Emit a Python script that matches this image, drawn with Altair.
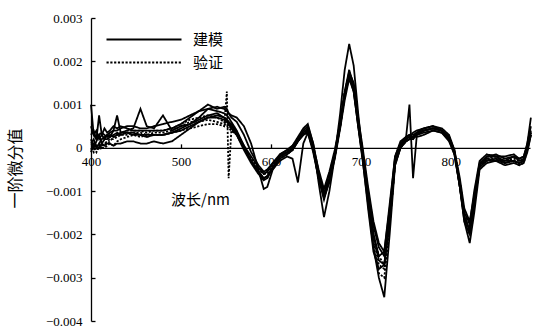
import altair as alt
import pandas as pd

# Wavelength grid (nm) shared by every curve
wavelength = [
    400, 403, 406, 409, 412, 415, 418, 421, 425, 429,
    433, 440, 447, 455, 462, 470, 480, 490, 500, 510,
    520, 530, 540, 548, 551, 553, 556, 562, 570, 578,
    586, 592, 596, 602, 610, 618, 624, 630, 636, 641,
    647, 653, 659, 665, 671, 677, 682, 687, 692, 697,
    702, 708, 714, 720, 726, 732, 738, 744, 750, 754,
    758, 762, 770, 780, 790, 798, 804, 810, 815, 821,
    826, 832, 840, 850, 860, 870, 876, 881, 885, 889,
]

# First-derivative spectra, in units of 0.001
model_1 = [
    0.1, 0.2, 0.0, 0.1, 0.2, 0.25, 0.3, 0.35, 0.4, 0.4,
    0.45, 0.5, 0.5, 0.45, 0.45, 0.5, 0.55, 0.6, 0.65, 0.75,
    0.85, 0.9, 0.95, 0.9, 0.85, 0.8, 0.75, 0.7, 0.5, 0.1,
    -0.5, -0.95, -0.9, -0.5, -0.15, -0.05, 0.05, 0.25, 0.45, 0.55,
    0.1, -0.8, -1.6, -1.0, -0.2, 0.8, 1.8, 2.4, 1.9, 0.8,
    -0.2, -1.2, -2.0, -2.5, -2.4, -1.4, -0.2, 0.15, 0.25, 0.3,
    0.3, 0.35, 0.4, 0.45, 0.4, 0.25, -0.05, -0.9, -1.7, -2.0,
    -1.3, -0.4, -0.2, -0.15, -0.25, -0.2, -0.25, -0.2, 0.1, 0.5,
]
model_2 = [
    1.0, 0.3, 0.2, 0.75, 0.3, 0.2, 0.3, 0.25, 0.4, 0.75,
    0.35, 0.4, 0.45, 0.9, 0.5, 0.45, 0.75, 0.4, 0.5, 0.55,
    0.7, 0.9, 0.85, 0.8, 0.75, 0.7, 0.6, 0.4, 0.05, -0.3,
    -0.55, -0.7, -0.65, -0.45, -0.25, -0.15, -0.05, 0.15, 0.3, 0.35,
    -0.1, -0.7, -1.1, -0.7, -0.2, 0.5, 1.2, 1.7, 1.35, 0.55,
    -0.2, -1.1, -2.0, -2.6, -2.7, -1.7, -0.35, 0.05, 0.2, 1.0,
    -0.7, 0.25, 0.3, 0.4, 0.35, 0.15, -0.15, -0.9, -1.6, -1.9,
    -1.3, -0.45, -0.3, -0.25, -0.35, -0.3, -0.35, -0.3, 0.1, 0.7,
]
model_3 = [
    0.3, 0.4, 0.2, 0.3, 0.35, 0.3, 0.25, 0.3, 0.25, 0.3,
    0.35, 0.35, 0.3, 0.3, 0.3, 0.3, 0.3, 0.35, 0.45, 0.55,
    0.65, 0.75, 0.8, 0.7, 0.65, 0.6, 0.55, 0.35, 0.0, -0.3,
    -0.55, -0.7, -0.65, -0.5, -0.3, -0.2, -0.25, -0.8, 0.1, 0.35,
    -0.05, -0.65, -1.15, -0.8, -0.2, 0.5, 1.2, 1.65, 1.3, 0.5,
    -0.3, -1.3, -2.3, -3.0, -3.45, -2.0, -0.4, 0.0, 0.15, 0.2,
    0.25, 0.3, 0.4, 0.45, 0.4, 0.25, -0.1, -0.9, -1.7, -2.2,
    -1.5, -0.5, -0.35, -0.3, -0.4, -0.35, -0.4, -0.35, -0.1, 0.3,
]
model_4 = [
    -0.1, 0.1, 0.05, 0.0, 0.1, 0.05, 0.1, 0.1, 0.05, 0.1,
    0.1, 0.15, 0.15, 0.1, 0.1, 0.15, 0.1, 0.15, 0.3, 0.45,
    0.6, 0.7, 0.75, 0.7, 0.65, 0.6, 0.5, 0.35, 0.05, -0.2,
    -0.45, -0.6, -0.55, -0.35, -0.15, -0.05, 0.05, 0.2, 0.35, 0.45,
    0.05, -0.5, -0.95, -0.55, -0.05, 0.6, 1.3, 1.8, 1.45, 0.65,
    -0.1, -1.0, -1.8, -2.3, -2.5, -1.5, -0.25, 0.1, 0.25, 0.3,
    0.25, 0.35, 0.45, 0.5, 0.45, 0.3, -0.05, -0.7, -1.4, -1.7,
    -1.1, -0.35, -0.2, -0.2, -0.3, -0.2, -0.3, -0.25, 0.0, 0.4,
]
model_5 = [
    0.5, 0.3, 0.4, 0.2, 0.3, 0.45, 0.35, 0.4, 0.5, 0.45,
    0.5, 0.45, 0.4, 0.4, 0.4, 0.4, 0.4, 0.45, 0.55, 0.7,
    0.85, 1.0, 0.9, 0.95, 0.9, 0.8, 0.7, 0.6, 0.3, -0.1,
    -0.4, -0.55, -0.5, -0.35, -0.2, -0.1, 0.0, 0.2, 0.4, 0.5,
    0.1, -0.55, -1.05, -0.7, -0.15, 0.55, 1.25, 1.75, 1.5, 0.7,
    0.0, -0.9, -1.7, -2.2, -2.4, -1.3, -0.2, 0.1, 0.2, 0.25,
    0.35, 0.4, 0.45, 0.5, 0.4, 0.2, -0.1, -0.8, -1.5, -1.75,
    -1.0, -0.3, -0.15, -0.2, -0.2, -0.15, -0.25, -0.2, 0.05, 0.35,
]
model_6 = [
    0.2, 0.0, 0.15, 0.3, 0.1, 0.2, 0.2, 0.25, 0.3, 0.35,
    0.3, 0.35, 0.35, 0.3, 0.25, 0.3, 0.3, 0.35, 0.4, 0.5,
    0.6, 0.7, 0.7, 0.65, 0.6, 0.55, 0.45, 0.3, -0.05, -0.35,
    -0.6, -0.75, -0.7, -0.45, -0.2, -0.1, -0.05, 0.15, 0.3, 0.4,
    -0.05, -0.7, -1.2, -0.75, -0.25, 0.45, 1.1, 1.6, 1.3, 0.5,
    -0.25, -1.4, -2.4, -2.8, -2.7, -1.7, -0.4, 0.0, 0.15, 0.2,
    0.2, 0.3, 0.35, 0.4, 0.35, 0.2, -0.15, -0.9, -1.6, -1.9,
    -1.3, -0.4, -0.25, -0.3, -0.3, -0.3, -0.35, -0.3, -0.05, 0.3,
]
check_1 = [
    -0.05, 0.0, -0.1, 0.05, 0.0, 0.0, 0.05, 0.1, 0.05, 0.15,
    0.2, 0.25, 0.3, 0.25, 0.3, 0.3, 0.3, 0.35, 0.4, 0.45,
    0.5, 0.55, 0.55, 0.5, 1.3, -0.7, 0.4, 0.3, 0.0, -0.3,
    -0.5, -0.6, -0.55, -0.4, -0.2, -0.1, 0.0, 0.2, 0.35, 0.4,
    0.0, -0.6, -1.0, -0.6, -0.1, 0.6, 1.3, 1.7, 1.4, 0.6,
    -0.1, -1.1, -2.0, -2.5, -2.7, -1.6, -0.3, 0.1, 0.2, 0.25,
    0.2, 0.3, 0.4, 0.45, 0.4, 0.2, -0.1, -0.8, -1.5, -1.8,
    -1.2, -0.4, -0.25, -0.2, -0.35, -0.3, -0.35, -0.3, 0.0, 0.4,
]
check_2 = [
    0.0, -0.1, 0.05, 0.1, 0.0, 0.1, 0.15, 0.2, 0.2, 0.25,
    0.3, 0.3, 0.35, 0.35, 0.3, 0.35, 0.35, 0.4, 0.5, 0.6,
    0.6, 0.65, 0.6, 0.55, 0.5, 0.45, 0.4, 0.3, 0.0, -0.25,
    -0.5, -0.6, -0.6, -0.4, -0.2, -0.1, 0.0, 0.2, 0.3, 0.4,
    0.0, -0.55, -1.0, -0.65, -0.15, 0.5, 1.2, 1.7, 1.45, 0.6,
    -0.15, -1.1, -2.1, -2.7, -2.8, -1.7, -0.35, 0.05, 0.2, 0.3,
    0.25, 0.3, 0.4, 0.45, 0.4, 0.25, -0.1, -0.8, -1.6, -1.85,
    -1.2, -0.4, -0.25, -0.25, -0.3, -0.25, -0.3, -0.3, 0.0, 0.35,
]
check_3 = [
    0.1, 0.05, 0.0, -0.05, 0.05, 0.1, 0.1, 0.15, 0.25, 0.3,
    0.3, 0.4, 0.4, 0.4, 0.35, 0.4, 0.4, 0.45, 0.55, 0.65,
    0.7, 0.75, 0.7, 0.6, 0.55, 0.5, 0.45, 0.3, 0.0, -0.3,
    -0.55, -0.7, -0.7, -0.45, -0.25, -0.15, -0.05, 0.15, 0.35, 0.45,
    0.0, -0.6, -1.1, -0.7, -0.2, 0.55, 1.25, 1.75, 1.4, 0.55,
    -0.2, -1.2, -2.2, -2.9, -3.0, -1.8, -0.35, 0.0, 0.15, 0.2,
    0.25, 0.35, 0.45, 0.5, 0.4, 0.25, -0.1, -0.85, -1.6, -2.0,
    -1.3, -0.4, -0.3, -0.3, -0.35, -0.3, -0.4, -0.35, -0.05, 0.3,
]

groups = ["建模", "验证"]
curves = [
    ("m1", groups[0], model_1),
    ("m2", groups[0], model_2),
    ("m3", groups[0], model_3),
    ("m4", groups[0], model_4),
    ("m5", groups[0], model_5),
    ("m6", groups[0], model_6),
    ("v1", groups[1], check_1),
    ("v2", groups[1], check_2),
    ("v3", groups[1], check_3),
]

rows = []
for order, (cid, grp, vals) in enumerate(curves):
    for w, v in zip(wavelength, vals):
        rows.append({"nm": w, "value": v / 1000.0, "curve": cid, "set": grp, "k": order})
df = pd.DataFrame(rows)

x_ticks = [400, 500, 600, 700, 800]
y_ticks = [-0.004, -0.003, -0.002, -0.001, 0, 0.001, 0.002, 0.003]

W, H = 439, 303
Y_MIN, Y_MAX = -0.004, 0.003
zero_from_top = H * Y_MAX / (Y_MAX - Y_MIN)

num_font = "Liberation Serif"
cjk_font = "Noto Sans CJK SC"

x_scale = alt.Scale(domain=[400, 888], nice=False, zero=False)
y_scale = alt.Scale(domain=[Y_MIN, Y_MAX], nice=False, zero=False)

# A long horizontal legend stroke drawn from a small symbol size, so rows stay compact
legend_stroke = "M-6.25,0H6.25"

lines = alt.Chart(df).mark_line(strokeWidth=1.8, color="black").encode(
    x=alt.X("nm:Q", scale=x_scale, axis=alt.Axis(
        orient="bottom", offset=-(H - zero_from_top), values=x_ticks,
        ticks=False, domain=True, domainColor="black", domainWidth=1.3,
        labelFont=num_font, labelFontSize=13, labelColor="black",
        labelPadding=8, labelFlush=False, labelOverlap=False, grid=False,
        title="波长/nm", titleFont=cjk_font, titleFontSize=15,
        titleFontWeight="normal", titleColor="black",
        titleX=109, titleY=52, titleAlign="center", titleBaseline="middle",
    )),
    y=alt.Y("value:Q", scale=y_scale, axis=alt.Axis(
        orient="left", values=y_ticks, format=".3~f",
        ticks=False, domain=True, domainColor="black", domainWidth=1.3,
        labelFont=num_font, labelFontSize=13, labelColor="black",
        labelPadding=9, labelFlush=False, labelOverlap=False, grid=False,
        title="一阶微分值", titleFont=cjk_font, titleFontSize=16,
        titleFontWeight="normal", titleColor="black",
        titleX=-76, titleY=150, titleAlign="center", titleBaseline="middle",
    )),
    strokeDash=alt.StrokeDash("set:N", scale=alt.Scale(domain=groups, range=[[1, 0], [2.2, 1.6]]),
                              legend=alt.Legend(
                                  orient="none", legendX=45.5, legendY=14, title=None,
                                  padding=0, symbolType=legend_stroke, symbolSize=144,
                                  symbolStrokeWidth=2, symbolStrokeColor="black",
                                  labelFont=cjk_font, labelFontSize=15, labelColor="black",
                                  labelOffset=41.5, rowPadding=7,
                              )),
    detail="curve:N",
    order="k:Q",
)

# Inward-facing tick marks along the zero line and the left axis
ticks = alt.Chart(df).mark_line(strokeOpacity=0).encode(
    x=alt.X("nm:Q", scale=x_scale, axis=alt.Axis(
        orient="top", offset=-zero_from_top, values=x_ticks, labels=False,
        domain=False, ticks=True, tickSize=4, tickColor="black", tickWidth=1.3,
        grid=False, title=None,
    )),
    y=alt.Y("value:Q", scale=y_scale, axis=alt.Axis(
        orient="right", offset=-W, values=y_ticks, labels=False,
        domain=False, ticks=True, tickSize=4, tickColor="black", tickWidth=1.3,
        grid=False, title=None,
    )),
    detail="curve:N",
)

chart = alt.layer(lines, ticks).resolve_axis(x="independent", y="independent").properties(
    width=W, height=H,
    autosize=alt.AutoSizeParams(type="none"),
    padding={"left": 91, "top": 18, "right": 5, "bottom": 6},
    background="white",
).configure_view(stroke=None)

chart.save("out.html", embed_options={"renderer": "svg", "actions": False})
